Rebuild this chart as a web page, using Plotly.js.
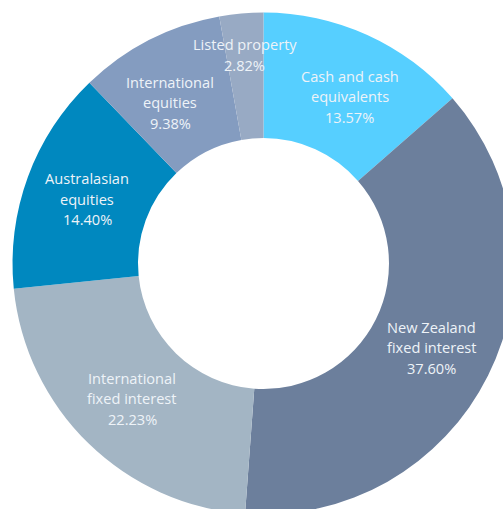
<!DOCTYPE html>
<html>
<head>
<meta charset="utf-8">
<script src="https://cdn.plot.ly/plotly-3.0.1.min.js"></script>
<style>
html,body{margin:0;padding:0;overflow:hidden;background:#fff;width:503px;height:509px;}
#chart{width:527px;height:527px;}
</style>
</head>
<body>
<div id="chart"></div>
<script>
// Data (clockwise from 12 o'clock)
const categories = ["Cash and cash equivalents", "New Zealand fixed interest", "International fixed interest", "Australasian equities", "International equities", "Listed property"];
const labelLines = [["Cash and cash", "equivalents"], ["New Zealand", "fixed interest"], ["International", "fixed interest"], ["Australasian", "equities"], ["International", "equities"], ["Listed property"]];
const values = [13.57, 37.60, 22.23, 14.40, 9.38, 2.82];
const colors = ["#56cfff", "#6c7f9c", "#a3b5c4", "#0088bf", "#849cc0", "#98aac4"];

// Style / geometry
const W = 527, H = 527;
const R = 251;            // outer radius px
const holeFrac = 0.5;
const cx = 263.5, cy = 263.5;
const labelRadius = [188, 188, 188, 188, 186, 210];
const labelAngleShift = [2.8, 0, 0, 0, -3, 0];   // degrees
const lineGap = 20.5;
const fontFamily = "'Open Sans', sans-serif";
const fontSize = 14.6;
const textColor = "#eef3f8";

const trace = {
  type: "pie",
  labels: categories,
  values: values,
  marker: {colors: colors, line: {width: 0}},
  hole: holeFrac,
  sort: false,
  direction: "clockwise",
  rotation: 0,
  textinfo: "none",
  hoverinfo: "label+percent",
  showlegend: false,
  domain: {x: [(cx - R) / W, (cx + R) / W], y: [(cy - R) / H, (cy + R) / H]}
};

const total = values.reduce((a, b) => a + b, 0);
const annotations = [];
let cum = 0;
values.forEach((v, i) => {
  const mid = (cum + v / 2) / total * 2 * Math.PI + labelAngleShift[i] * Math.PI / 180;
  cum += v;
  const r = labelRadius[i];
  const px = cx + r * Math.sin(mid);
  const py = cy - r * Math.cos(mid);
  const lines = labelLines[i].concat([v.toFixed(2) + "%"]);
  const n = lines.length;
  lines.forEach((t, k) => {
    const off = (k - (n - 1) / 2) * lineGap;
    annotations.push({
      xref: "paper", yref: "paper",
      x: px / W, y: 1 - (py + off) / H,
      text: t, showarrow: false,
      xanchor: "center", yanchor: "middle",
      font: {family: fontFamily, size: fontSize, color: textColor}
    });
  });
});

const layout = {
  width: W, height: H,
  margin: {l: 0, r: 0, t: 0, b: 0},
  paper_bgcolor: "#ffffff",
  showlegend: false,
  annotations: annotations
};

Plotly.newPlot("chart", [trace], layout, {displayModeBar: false, staticPlot: true});
</script>
</body>
</html>
